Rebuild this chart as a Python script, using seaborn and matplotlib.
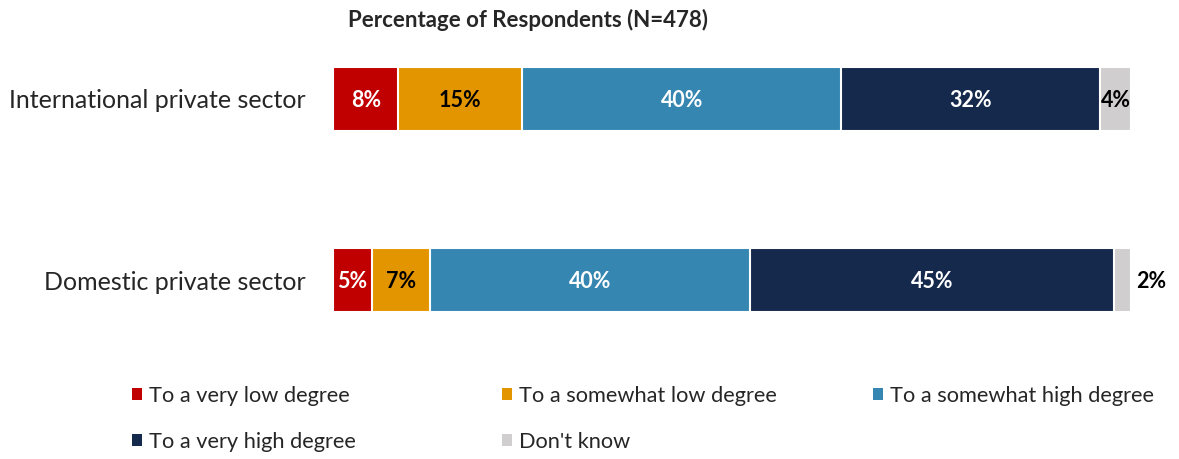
import matplotlib.pyplot as plt
from matplotlib.patches import Patch
import numpy as np
import seaborn as sns

# data (segment widths in %), labels as printed
sectors = ['International private sector', 'Domestic private sector']
levels = ['To a very low degree', 'To a somewhat low degree', 'To a somewhat high degree',
          'To a very high degree', "Don't know"]
very_low = [8.2, 4.9]
somewhat_low = [15.5, 7.3]
somewhat_high = [40.0, 40.1]
very_high = [32.4, 45.6]
dont_know = [3.9, 2.1]
label_text = [['8%', '15%', '40%', '32%', '4%'],
              ['5%', '7%', '40%', '45%', '2%']]

colors = ['#C00000', '#E39500', '#3587B1', '#15294C', '#D0CECE']
text_colors = ['white', 'black', 'white', 'white', 'black']

sns.set_theme(style='white')
plt.rcParams['font.family'] = ['Lato', 'DejaVu Sans']

series = np.array([very_low, somewhat_low, somewhat_high, very_high, dont_know])
cum = series.cumsum(axis=0)

fig = plt.figure(figsize=(11.79, 4.59), dpi=100)
ax = fig.add_axes([333 / 1179, 1 - 370.5 / 459, 798 / 1179, 362 / 459])

# stacked bars: draw cumulative totals from the widest down so each segment shows
for i in range(len(levels) - 1, -1, -1):
    sns.barplot(x=cum[i], y=sectors, color=colors[i], orient='h', width=0.354,
                saturation=1, edgecolor='white', linewidth=1.5, ax=ax)

# value labels
for r in range(len(sectors)):
    for i in range(len(levels)):
        w = series[i][r]
        mid = cum[i][r] - w / 2
        if w < 3:
            ax.text(cum[i][r] + 0.7, r + 0.01, label_text[r][i], ha='left', va='center',
                    fontsize=15.5, fontweight='bold', color='black')
        else:
            ax.text(mid, r + 0.01, label_text[r][i], ha='center', va='center',
                    fontsize=15.5, fontweight='bold', color=text_colors[i])

ax.set_xlim(0, 100)
ax.set_ylim(1.5, -0.5)
ax.set_xlabel('')
ax.set_ylabel('')
ax.set_xticks([])
ax.tick_params(axis='y', length=0, pad=20, labelsize=18)
sns.despine(ax=ax, left=True, bottom=True)

fig.text(528 / 1179, 1 - 20 / 459, 'Percentage of Respondents (N=478)',
         ha='center', va='center', fontsize=16, fontweight='bold')

# legend: three fixed-width columns, filled row by row
columns = [[0, 3], [1, 4], [2]]
col_x = [132, 502, 873]
for idx, x in zip(columns, col_x):
    handles = [Patch(facecolor=colors[i], edgecolor='none') for i in idx]
    fig.legend(handles, [levels[i] for i in idx], ncol=1, loc='upper left',
               bbox_to_anchor=(x / 1179, 1 - 386 / 459), frameon=False,
               fontsize=15.7, handlelength=0.46, handleheight=0.46, handletextpad=0.32,
               labelspacing=1.2, borderpad=0, borderaxespad=0)

fig.savefig('out.png', dpi=100)
